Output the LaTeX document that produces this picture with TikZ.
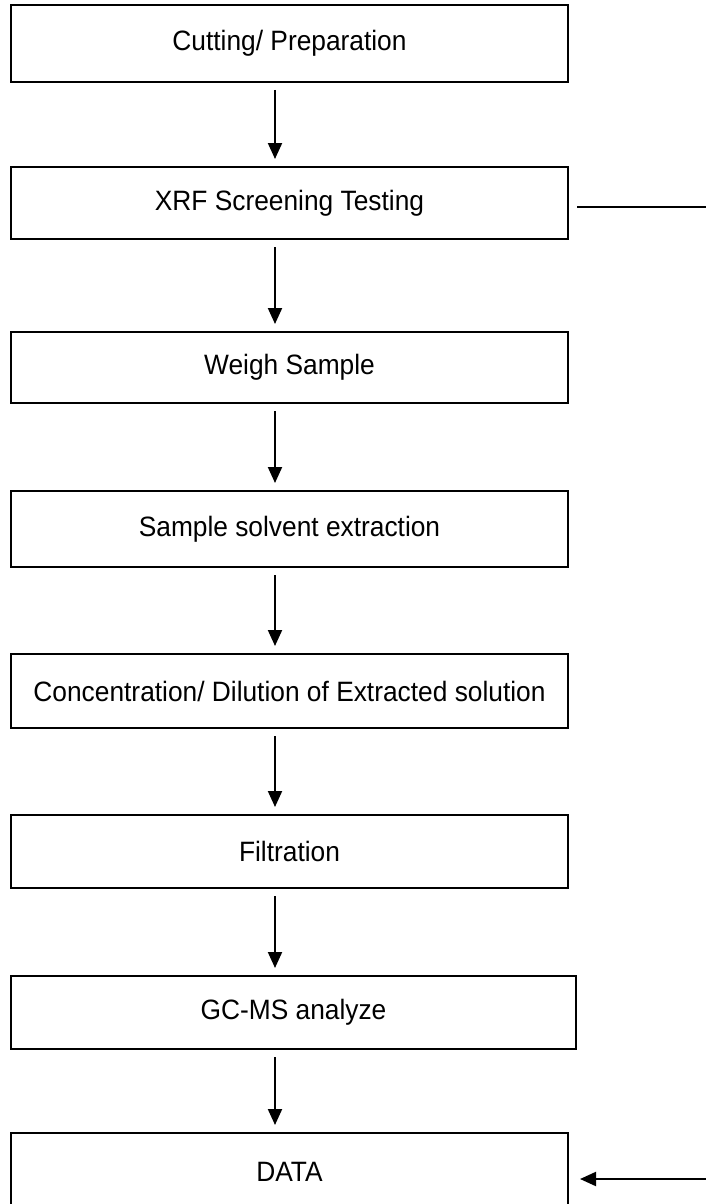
\documentclass[tikz,border=0pt]{standalone}
\usepackage{fontspec}
\setmainfont{Liberation Sans}[FakeStretch=0.94]
\usetikzlibrary{arrows.meta}
\begin{document}
\begin{tikzpicture}[x=1pt,y=-1pt,
  box/.style={draw=black, line width=2pt, fill=white, inner sep=0pt,
    minimum width=557pt, font=\fontsize{28}{34}\selectfont},
  arr/.style={draw=black, line width=2pt,
    -{Triangle[length=16pt,width=14pt]}, shorten <=7pt, shorten >=7pt},
  feed/.style={draw=black, line width=2.7pt}]
\useasboundingbox (0,0) rectangle (705,1204);
\coordinate (ax) at (275,0);
\node[box, minimum height=77pt] (b1) at (289.5,43.5) {Cutting/ Preparation};
\node[box, minimum height=72pt] (b2) at (289.5,203) {XRF Screening Testing};
\node[box, minimum height=71pt] (b3) at (289.5,367.5) {Weigh Sample};
\node[box, minimum height=76pt] (b4) at (289.5,529) {Sample solvent extraction};
\node[box, minimum height=74pt] (b5) at (289.5,691) {Concentration/ Dilution of Extracted solution};
\node[box, minimum height=73pt] (b6) at (289.5,851.5) {Filtration};
\node[box, minimum height=73pt, minimum width=565pt] (b7) at (293.5,1012.5) {GC-MS analyze};
\node[box, minimum height=77pt] (b8) at (289.5,1171.5) {DATA};
\coordinate (xr) at (707,207);
\coordinate (dr) at (707,1179);
\draw[arr] (b1.south -| ax) -- (b2.north -| ax);
\draw[arr] (b2.south -| ax) -- (b3.north -| ax);
\draw[arr] (b3.south -| ax) -- (b4.north -| ax);
\draw[arr] (b4.south -| ax) -- (b5.north -| ax);
\draw[arr] (b5.south -| ax) -- (b6.north -| ax);
\draw[arr] (b6.south -| ax) -- (b7.north -| ax);
\draw[arr] (b7.south -| ax) -- (b8.north -| ax);
\draw[feed] ([xshift=8pt]b2.east |- xr) -- (xr);
\draw[arr, shorten <=0pt, shorten >=11pt] (dr) -- (b8.east |- dr);
\end{tikzpicture}
\end{document}
